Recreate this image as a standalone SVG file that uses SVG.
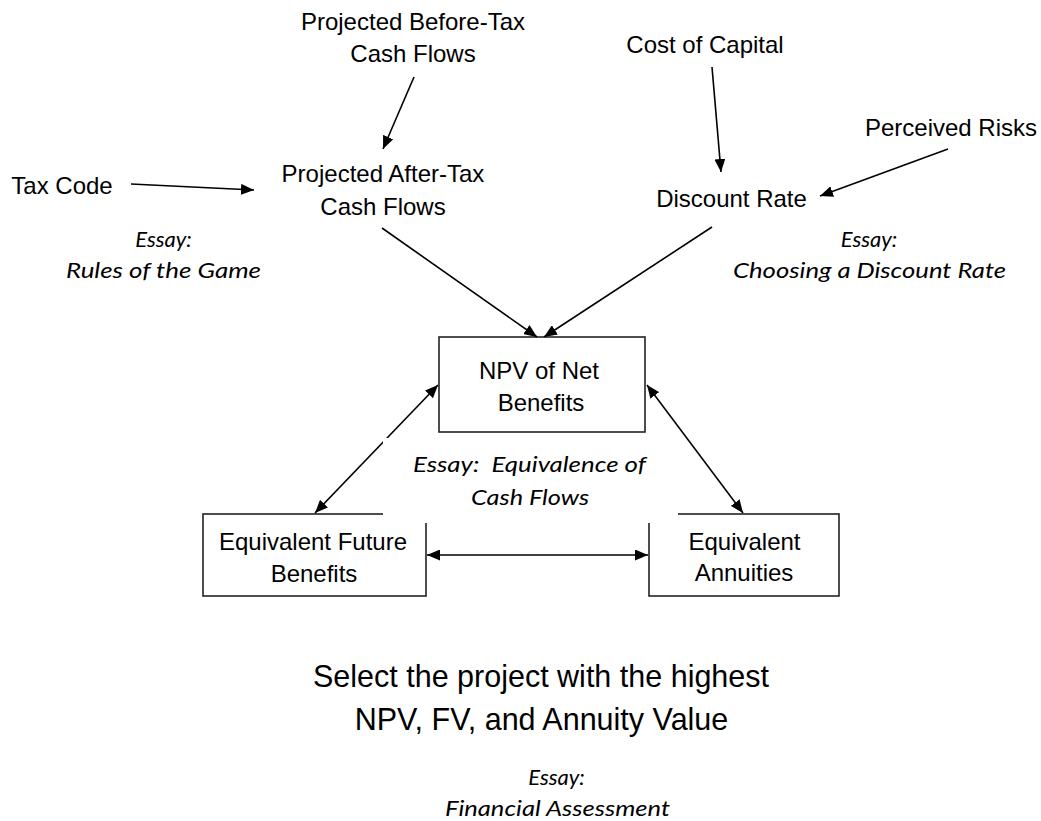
<svg xmlns="http://www.w3.org/2000/svg" width="1041" height="821" viewBox="0 0 1041 821">
<style>
.t{font-family:"Liberation Sans",Arial,sans-serif;font-size:24px;fill:#000;text-anchor:middle}
.big{font-size:30.5px}
.e{font-family:Lato,"Open Sans",sans-serif;font-style:italic;font-size:22px;fill:#000;text-anchor:middle}
.box{fill:#fff;stroke:#222;stroke-width:1.6}
.c{stroke:#000;stroke-width:1.6;fill:none}
</style>
<defs>
<marker id="ah" markerUnits="userSpaceOnUse" markerWidth="13" markerHeight="11" refX="13" refY="5.5" orient="auto-start-reverse" viewBox="0 0 13 11">
<path d="M0,0 L13,5.5 L0,11 z" fill="#000"/>
</marker>
</defs>
<rect width="1041" height="821" fill="#fff"/>

<g id="before-tax"><text class="t" x="413" y="30">Projected Before-Tax</text><text class="t" x="413" y="62">Cash Flows</text></g>
<g id="tax-code"><text class="t" x="62" y="194">Tax Code</text></g>
<g id="after-tax"><text class="t" x="383" y="182">Projected After-Tax</text><text class="t" x="383" y="215">Cash Flows</text></g>
<g id="essay-rules"><text class="e" x="163.5" y="247">Essay:</text><text class="e" x="163.5" y="278" textLength="195" lengthAdjust="spacingAndGlyphs">Rules of the Game</text></g>
<g id="cost-capital"><text class="t" x="705" y="53">Cost of Capital</text></g>
<g id="perceived-risks"><text class="t" x="951" y="136">Perceived Risks</text></g>
<g id="discount-rate"><text class="t" x="731.5" y="207">Discount Rate</text></g>
<g id="essay-discount"><text class="e" x="869" y="247">Essay:</text><text class="e" x="869.5" y="278" textLength="273" lengthAdjust="spacingAndGlyphs">Choosing a Discount Rate</text></g>

<g id="npv"><rect class="box" x="439" y="337" width="206" height="95"/><text class="t" x="539" y="379">NPV of Net</text><text class="t" x="541" y="411">Benefits</text></g>
<g id="efb"><rect class="box" x="203" y="514" width="223" height="82"/><text class="t" x="313" y="550">Equivalent Future</text><text class="t" x="314" y="582">Benefits</text></g>
<g id="annuities"><rect class="box" x="649" y="514" width="190" height="82"/><text class="t" x="744.5" y="550">Equivalent</text><text class="t" x="744" y="581">Annuities</text></g>

<g id="connectors">
<line class="c" x1="131" y1="184" x2="254" y2="190" marker-end="url(#ah)"/>
<line class="c" x1="414" y1="77" x2="383" y2="149" marker-end="url(#ah)"/>
<line class="c" x1="712" y1="67" x2="721" y2="172" marker-end="url(#ah)"/>
<line class="c" x1="948" y1="149" x2="820" y2="196" marker-end="url(#ah)"/>
<line class="c" x1="382" y1="228" x2="537" y2="337" marker-end="url(#ah)"/>
<line class="c" x1="712" y1="227" x2="544" y2="337" marker-end="url(#ah)"/>
<line class="c" x1="438" y1="385" x2="315" y2="513" marker-start="url(#ah)" marker-end="url(#ah)"/>
<line class="c" x1="647" y1="385" x2="743" y2="513" marker-start="url(#ah)" marker-end="url(#ah)"/>
<line class="c" x1="427" y1="555" x2="648" y2="555" marker-start="url(#ah)" marker-end="url(#ah)"/>
</g>

<g id="essay-equivalence">
<rect x="383" y="438" width="295" height="85" fill="#fff"/>
<text class="e" x="529.5" y="472" textLength="233" lengthAdjust="spacingAndGlyphs" xml:space="preserve">Essay:  Equivalence of</text>
<text class="e" x="530" y="505" textLength="118" lengthAdjust="spacingAndGlyphs">Cash Flows</text>
</g>

<g id="select"><text class="t big" x="541" y="687">Select the project with the highest</text><text class="t big" x="541.5" y="730">NPV, FV, and Annuity Value</text></g>
<g id="essay-financial"><text class="e" x="556.5" y="785">Essay:</text><text class="e" x="557.5" y="816" textLength="225" lengthAdjust="spacingAndGlyphs">Financial Assessment</text></g>
</svg>
